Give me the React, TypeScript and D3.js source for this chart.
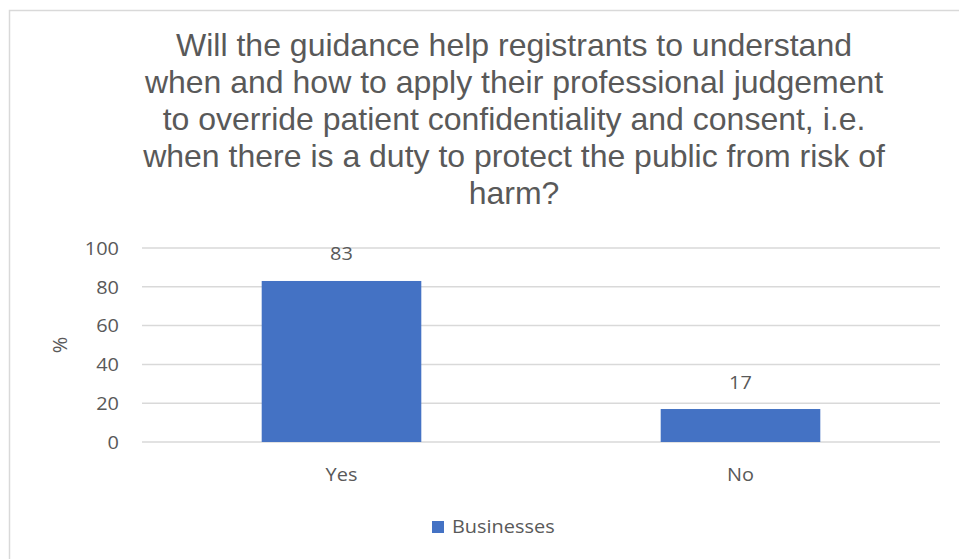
import React from "react";
import * as d3 from "d3";

const categories = ["Yes", "No"];
const values = [83, 17];
const seriesName = "Businesses";
const yTicks = [0, 20, 40, 60, 80, 100];
const titleLines = [
  "Will the guidance help registrants to understand",
  "when and how to apply their professional judgement",
  "to override patient confidentiality and consent, i.e.",
  "when there is a duty to protect the public from risk of",
  "harm?",
];

const W = 959;
const H = 559;
const plot = { left: 142, right: 940, top: 248, bottom: 442 };
const BAR = "#4472C4";
const TXT = "#595959";
const GRID = "#D9D9D9";
const labelFont = "'Open Sans', 'Liberation Sans', sans-serif";
const TITLE_SX = 1.0;
const LABEL_SX = 1.06;

function SText(props: { x: number; y: number; sx: number; anchor: string; size: number; font: string; children: React.ReactNode }) {
  return (
    <g transform={`translate(${props.x},${props.y}) scale(${props.sx},1)`}>
      <text x={0} y={0} textAnchor={props.anchor} fontFamily={props.font} fontSize={props.size} fill={TXT}>
        {props.children}
      </text>
    </g>
  );
}

export default function App() {
  const x = d3.scaleBand<string>().domain(categories).range([plot.left, plot.right]).padding(0);
  const y = d3.scaleLinear().domain([0, 100]).range([plot.bottom, plot.top]);
  const barW = x.bandwidth() * 0.4;

  return (
    <svg width={W} height={H} style={{ position: "absolute", left: 0, top: 0, background: "#fff" }}>
      <rect x={9.5} y={10.5} width={W + 10} height={H + 10} fill="#fff" stroke={GRID} strokeWidth={1.5} />
      {titleLines.map((t, i) => (
        <SText key={i} x={514} y={56 + i * 37} sx={TITLE_SX} anchor="middle" size={32} font="'Liberation Sans', Arial, sans-serif">
          {t}
        </SText>
      ))}
      {yTicks.map((t) => (
        <g key={t}>
          <line x1={plot.left} x2={plot.right} y1={y(t)} y2={y(t)} stroke={GRID} strokeWidth={1.5} />
          <SText x={119} y={y(t) + 6.8} sx={LABEL_SX} anchor="end" size={18.8} font={labelFont}>{t}</SText>
        </g>
      ))}
      <text transform={`translate(67,${345}) rotate(-90)`} textAnchor="middle" fontFamily={labelFont} fontSize={20} fill={TXT}>%</text>
      {categories.map((c, i) => {
        const cx = (x(c) as number) + x.bandwidth() / 2;
        return (
          <g key={c}>
            <rect x={cx - barW / 2} y={y(values[i])} width={barW} height={plot.bottom - y(values[i])} fill={BAR} />
            <SText x={cx} y={y(values[i]) - 20.5} sx={LABEL_SX} anchor="middle" size={18.8} font={labelFont}>{values[i]}</SText>
            <SText x={cx} y={481} sx={LABEL_SX} anchor="middle" size={18.8} font={labelFont}>{c}</SText>
          </g>
        );
      })}
      <rect x={432} y={521} width={12} height={12} fill={BAR} />
      <SText x={452} y={533} sx={LABEL_SX} anchor="start" size={18.8} font={labelFont}>{seriesName}</SText>
    </svg>
  );
}
